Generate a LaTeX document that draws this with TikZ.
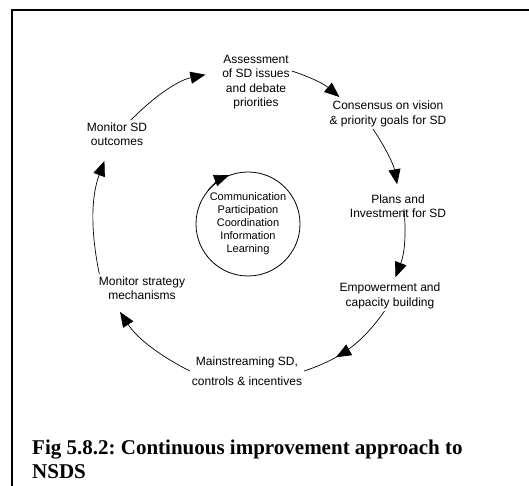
\documentclass[tikz,border=0pt]{standalone}
\usepackage{fontspec}
\setmainfont{Liberation Sans}
\newfontfamily\capfont{Liberation Serif}
\usetikzlibrary{arrows.meta,decorations.markings}

\begin{document}
\begin{tikzpicture}[x=1pt, y=1pt,
  stage/.style={align=center, inner sep=2pt, font=\fontsize{12}{14.5}\selectfont},
  hub/.style={draw, circle, line width=0.8pt, minimum size=104pt, inner sep=0pt, align=center, font=\fontsize{11}{13}\selectfont},
  arr/.style={-{Triangle[length=15pt,width=12pt]}, line width=0.7pt},
  midarr/.style={line width=0.7pt, decoration={markings, mark=at position #1 with {\arrow{Triangle[length=15pt,width=12pt]}}}, postaction={decorate}}
]
\useasboundingbox (0,0) rectangle (529,486);
\draw[line width=2pt] (12,-5) -- (12,476) -- (540,476);

\node[stage] (assess) at (256,404) {Assessment\\of SD issues\\and debate\\priorities};
\node[stage] (consensus) at (388,372) {Consensus on vision\\\& priority goals for SD};
\node[stage] (plans) at (398,280) {Plans and\\Investment for SD};
\node[stage] (empower) at (390,190) {Empowerment and\\capacity building};
\node[stage] (mainstream) at (247,115) {Mainstreaming SD,\\[5.5pt]controls \& incentives};
\node[stage] (monstrat) at (142,198) {Monitor strategy\\mechanisms};
\node[stage] (monout) at (117,352) {Monitor SD\\outcomes};
\node[hub] (hub) at (248,262) {Communication\\Participation\\Coordination\\Information\\Learning};
\node[anchor=north west, inner sep=0pt, align=left, font=\capfont\bfseries\fontsize{21}{24}\selectfont\frenchspacing] (caption) at (32,46) {Fig 5.8.2: Continuous improvement approach to\\NSDS};

\draw[arr, shorten >=15pt] (monout.45) to[bend left=17] (assess.164);
\draw[arr, shorten >=3pt] (assess.17) to[bend left=11] (consensus.162);
\draw[arr, shorten >=8pt] (consensus.225) to[bend left=12] (plans.88);
\draw[arr, shorten >=4pt] ([xshift=6pt,yshift=-3pt]plans.center) to[bend left=13] (empower.75);
\draw[midarr=0.66] (empower.250) to[bend left=18] (mainstream.east);
\draw[arr, shorten >=12pt] (mainstream.west) to[bend left=15] (monstrat.206);
\draw[arr, shorten >=14pt] (monstrat.162) to[bend left=16] (monout.241);
\draw[arr] (hub.140) arc[start angle=140, end angle=111, radius=52pt];
\end{tikzpicture}
\end{document}
